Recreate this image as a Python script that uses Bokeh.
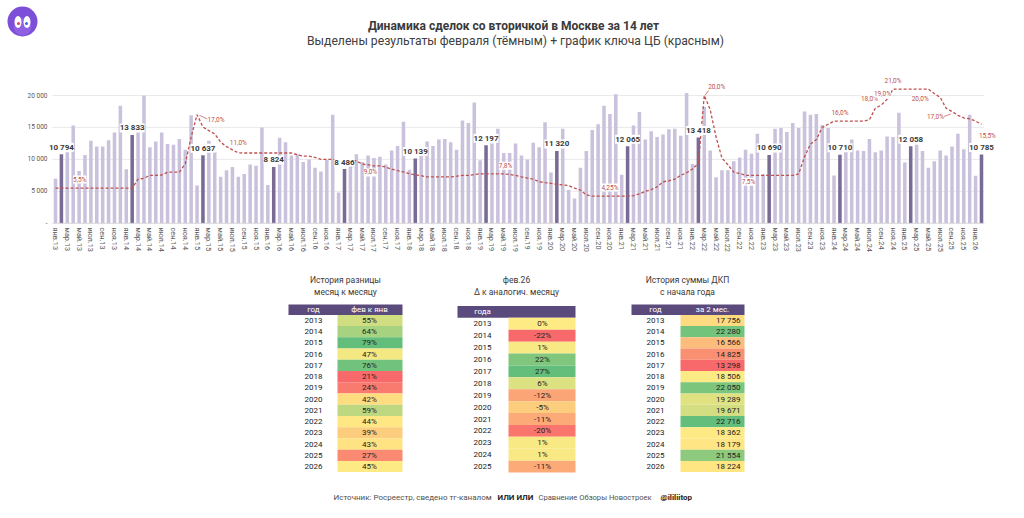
import numpy as np
from bokeh.plotting import figure
from bokeh.models import ColumnDataSource, LabelSet, Range1d, FixedTicker
from bokeh.layouts import column
from bokeh.embed import file_html
from bokeh.resources import INLINE
from bokeh.core.properties import value

FONT = "Roboto"

# ---------------- data ----------------
years = list(range(2013, 2027))
month_abbr = ["янв", "фев", "мар", "апр", "май", "июн", "июл", "авг", "сен", "окт", "ноя", "дек"]

deals_2013 = [6962, 10794, 11100, 15300, 8200, 10700, 12900, 12000, 12000, 13000, 14200, 18400]
deals_2014 = [8447, 13833, 15500, 20000, 11900, 12800, 14200, 12400, 12300, 13200, 11500, 16900]
deals_2015 = [5929, 10637, 12900, 11200, 7300, 8300, 8800, 7300, 7700, 9200, 9000, 15000]
deals_2016 = [6001, 8824, 13400, 12700, 10600, 10800, 9600, 10000, 8700, 8100, 9900, 17000]
deals_2017 = [4812, 8486, 9000, 10800, 9600, 10600, 10200, 10400, 9200, 11400, 12100, 15900]
deals_2018 = [8367, 10139, 10600, 12800, 12100, 13100, 13200, 12700, 11500, 16100, 15700, 18900]
deals_2019 = [9853, 12197, 12500, 14800, 11000, 11000, 12500, 10600, 10000, 12600, 11900, 15800]
deals_2020 = [7969, 11320, 14800, 5200, 3900, 8700, 11300, 14600, 15500, 18400, 17100, 20200]
deals_2021 = [7606, 12065, 15300, 17400, 13100, 14400, 13500, 13900, 14700, 14800, 13700, 20400]
deals_2022 = [9298, 13418, 18200, 11400, 7200, 8300, 8300, 9700, 10300, 11500, 10900, 14000]
deals_2023 = [7672, 10690, 14800, 14900, 14300, 15700, 14900, 17500, 17000, 17100, 15400, 14900]
deals_2024 = [7469, 10710, 11200, 13100, 11400, 11300, 13200, 11100, 11400, 13600, 13500, 17300]
deals_2025 = [9496, 12058, 12300, 11300, 8700, 9700, 11400, 10600, 12000, 14000, 11600, 17000]
deals_2026 = [7439, 10785]

rate_2013 = [5.5] * 12
rate_2014 = [5.5, 5.5, 6.9, 7.05, 7.5, 7.5, 7.56, 8.0, 8.0, 8.0, 9.3, 13.5]
rate_2015 = [17.0, 15.07, 14.5, 14.0, 12.7, 12.0, 11.5, 11.03, 11.0, 11.0, 11.0, 11.0]
rate_2016 = [11.0, 11.0, 11.0, 11.0, 11.0, 10.75, 10.5, 10.5, 10.3, 10.0, 10.0, 10.0]
rate_2017 = [10.0, 10.0, 9.97, 9.75, 9.27, 9.15, 9.0, 9.0, 8.8, 8.48, 8.25, 8.03]
rate_2018 = [7.75, 7.6, 7.45, 7.25, 7.25, 7.25, 7.25, 7.25, 7.37, 7.5, 7.5, 7.62]
rate_2019 = [7.75, 7.75, 7.75, 7.75, 7.75, 7.63, 7.49, 7.25, 7.07, 6.9, 6.5, 6.37]
rate_2020 = [6.25, 6.09, 6.0, 5.92, 5.5, 5.2, 4.45, 4.25, 4.25, 4.25, 4.25, 4.25]
rate_2021 = [4.25, 4.25, 4.33, 4.6, 5.0, 5.27, 5.7, 6.5, 6.65, 6.9, 7.5, 7.9]
rate_2022 = [8.5, 9.4, 20.0, 17.8, 13.5, 10.2, 9.16, 8.0, 7.8, 7.5, 7.5, 7.5]
rate_2023 = [7.5, 7.5, 7.5, 7.5, 7.5, 7.5, 7.73, 10.4, 12.4, 13.1, 15.0, 15.5]
rate_2024 = [16.0, 16.0, 16.0, 16.0, 16.0, 16.0, 16.2, 18.0, 18.5, 19.4, 21.0, 21.0]
rate_2025 = [21.0, 21.0, 21.0, 21.0, 21.0, 20.3, 19.7, 18.0, 17.5, 16.9, 16.5, 16.35]
rate_2026 = [16.0, 15.5]

rate_lbl_idx = [4, 24, 31, 53, 76, 94, 110, 117, 133, 139, 140, 142, 149, 152, 157]
rate_lbl_txt = ["5,5%", "17,0%", "11,0%", "9,0%", "7,8%", "4,25%", "20,0%", "7,5%",
                "16,0%", "18,0%", "19,0%", "21,0%", "20,0%", "17,0%", "15,5%"]

y_ticks = [0, 5000, 10000, 15000, 20000]
y_tick_labels = ["-", "5 000", "10 000", "15 000", "20 000"]

t1_years = list(range(2013, 2027))
t1_vals = [55, 64, 79, 47, 76, 21, 24, 42, 59, 44, 39, 43, 27, 45]
t2_years = list(range(2013, 2026))
t2_vals = [0, -22, 1, 22, 27, 6, -12, -5, -11, -20, 1, 1, -11]
t3_years = list(range(2013, 2027))
t3_vals = [17756, 22280, 16566, 14825, 13298, 18506, 22050, 19289, 19671, 22716, 18362, 18179, 21554, 18224]

TITLE = "Динамика сделок со вторичкой в Москве за 14 лет"
SUBTITLE = "Выделены результаты февраля (тёмным) + график ключа ЦБ (красным)"

# ---------------- styles / layout ----------------
LIGHT = "#cac2dc"
DARK = "#7a6b96"
RED = "#c0504d"
HEAD = "#5b4b7d"
GRAY_T = "#595959"

W = 1024
BAR0_PX = 55.0      # page x of first bar
STEP_PX = 5.898     # page px per month
PX_PER_UNIT = 6.39 / 1000.0
BASE_PX = 222.8     # page y of the zero line
CH_TOP, CH_H = 60, 206
MB_TOP, MB_BOT = 14, 39

# label placement offsets (months, units) for the rate labels
rate_lbl_dx = [0.1, 3.2, 0, 0.4, 0.3, 0, 2.1, 0.5, 0, -1, 0.2, 0, -2.4, -2.8, 1.0]
rate_lbl_dy = [1350, -800, 1500, -1200, 1250, 1350, 1400, -1000, 1300, 1400, 1800, 1300, -900, -800, -1900]

deals = (deals_2013 + deals_2014 + deals_2015 + deals_2016 + deals_2017 + deals_2018 + deals_2019 +
         deals_2020 + deals_2021 + deals_2022 + deals_2023 + deals_2024 + deals_2025 + deals_2026)
rates = (rate_2013 + rate_2014 + rate_2015 + rate_2016 + rate_2017 + rate_2018 + rate_2019 +
         rate_2020 + rate_2021 + rate_2022 + rate_2023 + rate_2024 + rate_2025 + rate_2026)
n = len(deals)
months = [f"{month_abbr[m]}.{str(y)[2:]}" for y in years for m in range(12)][:n]
idx = list(range(n))
is_feb = [i % 12 == 1 for i in idx]


def fmt_num(v):
    return f"{v:,}".replace(",", " ")


# ---------------- header ----------------
hdr = figure(width=W, height=CH_TOP, x_range=Range1d(0, W), y_range=Range1d(CH_TOP, 0),
             output_backend="svg", toolbar_location=None, title=None, min_border=0,
             x_axis_location=None, y_axis_location=None)
hdr.grid.visible = False
hdr.outline_line_color = None
hdr.scatter([22], [21], size=30, marker="circle", fill_color="#7d4fd8", line_color=None)
hdr.scatter([22], [26], size=18, marker="circle", fill_color="#a070ee", line_color=None, fill_alpha=0.55)
hdr.ellipse(x=[17.5, 26.5], y=[21.5, 21.5], width=7, height=12, fill_color="white", line_color=None)
hdr.scatter([18, 26], [23, 23], size=3, marker="circle", fill_color=["#e04060", "#4060e0"], line_color=None)
hdr.text(x=[513], y=[25], text=[TITLE], text_font=value(FONT), text_font_size="12px",
         text_font_style="bold", text_align="center", text_baseline="middle", text_color="#3a3a3a")
hdr.text(x=[515], y=[40], text=[SUBTITLE], text_font=value(FONT), text_font_size="12.2px",
         text_align="center", text_baseline="middle", text_color="#404040")

# ---------------- chart ----------------
frame_top = CH_TOP + MB_TOP
frame_bot = CH_TOP + CH_H - MB_BOT
y0 = -(frame_bot - BASE_PX) / PX_PER_UNIT
y1 = (BASE_PX - frame_top) / PX_PER_UNIT
x0 = -BAR0_PX / STEP_PX
x1 = (W - BAR0_PX) / STEP_PX

p = figure(width=W, height=CH_H, x_range=Range1d(x0, x1), y_range=Range1d(y0, y1),
           output_backend="svg", toolbar_location=None, title=None, y_axis_location=None,
           min_border_left=0, min_border_right=0, min_border_top=MB_TOP, min_border_bottom=MB_BOT)
p.outline_line_color = None
p.xgrid.visible = False
p.ygrid.visible = False
p.background_fill_color = "white"

p.segment(x0=[-0.5] * 4, x1=[n - 0.5] * 4, y0=y_ticks[1:], y1=y_ticks[1:], line_color="#e4e4e4",
          line_width=0.8, level="underlay")

bar_src = ColumnDataSource(dict(x=idx, top=deals, c=[DARK if f else LIGHT for f in is_feb]))
p.vbar(x="x", top="top", bottom=0, width=0.6, fill_color="c", line_color=None, source=bar_src)
p.segment(x0=[-0.5], x1=[n - 0.5], y0=[0], y1=[0], line_color="#d0d0d0", line_width=0.8)

# y tick labels
p.text(x=[(47 - BAR0_PX) / STEP_PX] * len(y_ticks), y=y_ticks, text=y_tick_labels,
       text_font=value(FONT), text_font_size="6.5px", text_color=GRAY_T,
       text_align="right", text_baseline="middle")

p.line(idx, [r * 1000 for r in rates], line_color=RED, line_dash="3 2", line_width=1.3)

# leader lines for some rate labels
p.segment(x0=[24.4, 110.1, 150.6], y0=[16900, 20000, 16700], x1=[25.8, 110.9, 151.8],
          y1=[16300, 21000, 17100], line_color=RED, line_width=0.7)

feb_x = [i for i in idx if is_feb[i]]
feb_src = ColumnDataSource(dict(x=feb_x, y=[deals[i] for i in feb_x], t=[fmt_num(deals[i]) for i in feb_x]))
p.add_layout(LabelSet(x="x", y="y", text="t", source=feb_src, y_offset=7, text_align="center",
                      text_baseline="middle", text_font=value(FONT), text_font_size="8px",
                      text_font_style="bold", text_color="#3a3a3a", background_fill_color="white"))

rl_src = ColumnDataSource(dict(
    x=[rate_lbl_idx[k] + rate_lbl_dx[k] for k in range(len(rate_lbl_idx))],
    y=[rates[rate_lbl_idx[k]] * 1000 + rate_lbl_dy[k] for k in range(len(rate_lbl_idx))],
    t=rate_lbl_txt))
p.add_layout(LabelSet(x="x", y="y", text="t", source=rl_src, text_align="center",
                      text_baseline="middle", text_font=value(FONT), text_font_size="6.5px",
                      text_color=RED, background_fill_color="white"))

p.xaxis.ticker = FixedTicker(ticks=list(range(0, n, 2)))
p.xaxis.major_label_overrides = {i: months[i] for i in range(0, n, 2)}
p.xaxis.major_label_orientation = "vertical"
p.xaxis.axis_line_color = None
p.xaxis.major_tick_line_color = None
p.xaxis.minor_tick_line_color = None
p.xaxis.major_label_text_font = FONT
p.xaxis.major_label_text_font_size = "7.3px"
p.xaxis.major_label_text_color = GRAY_T
p.xaxis.major_label_standoff = 0
p.xaxis.major_tick_out = 0
p.xaxis.major_tick_in = 0


# ---------------- tables ----------------
def scale_colors(vals):
    lo, hi = min(vals), max(vals)
    mid = float(np.percentile(vals, 50))
    red, yel, grn = (248, 105, 107), (255, 235, 132), (99, 190, 123)
    out = []
    for v in vals:
        if v <= mid:
            t = (v - lo) / (mid - lo) if mid > lo else 1.0
            a, b = red, yel
        else:
            t = (v - mid) / (hi - mid)
            a, b = yel, grn
        c = tuple(int(round(a[k] + (b[k] - a[k]) * t)) for k in range(3))
        out.append("#%02x%02x%02x" % c)
    return out


TB_TOP = CH_TOP + CH_H
TB_H = 518 - TB_TOP
tb = figure(width=W, height=TB_H, x_range=Range1d(0, W), y_range=Range1d(TB_H, 0),
            output_backend="svg", toolbar_location=None, title=None, min_border=0,
            x_axis_location=None, y_axis_location=None)
tb.grid.visible = False
tb.outline_line_color = None


def txt(x, y, s, size="8px", color="#333333", align="center", style="normal"):
    tb.text(x=x, y=y, text=s, text_font=value(FONT), text_font_size=size, text_color=color,
            text_align=align, text_baseline="middle", text_font_style=style)


def table(cx_title, titles, hx0, hx1, hy0, hy1, head_txt, head_x, row_y0, pitch,
          yrs, vals, labels, year_x, cell_x0, cell_x1, val_x, val_align):
    txt([cx_title] * 2, [13, 25], titles, size="8.5px", color="#3a3a3a")
    tb.quad(left=[hx0], right=[hx1], top=[hy0], bottom=[hy1], fill_color=HEAD, line_color=None)
    txt(head_x, [(hy0 + hy1) / 2] * len(head_x), head_txt, size="8px", color="white")
    ys = [row_y0 + i * pitch for i in range(len(yrs))]
    tb.quad(left=[cell_x0] * len(ys), right=[cell_x1] * len(ys), top=[y - pitch / 2 for y in ys],
            bottom=[y + pitch / 2 for y in ys], fill_color=scale_colors(vals), line_color=None)
    txt([year_x] * len(ys), ys, [str(y) for y in yrs], size="8px", color="#222222")
    txt([val_x] * len(ys), ys, labels, size="8px", color="#222222", align=val_align)


table(345, ["История разницы", "месяц к месяцу"], 288, 402, 38, 48.4, ["год", "фев к янв"], [313, 369],
      54, 11.23, t1_years, t1_vals, [f"{v}%" for v in t1_vals], 313, 337, 402, 369, "center")
table(516, ["фев.26", "Δ к аналогич. месяцу"], 457, 575, 39.5, 51.3, ["года"], [482],
      57.3, 11.9, t2_years, t2_vals, [f"{v}%" for v in t2_vals], 482, 508, 575, 542, "center")
table(687, ["История суммы ДКП", "с начала года"], 631, 744, 38, 48.4, ["год", "за 2 мес."], [655, 712],
      54, 11.23, t3_years, t3_vals, [fmt_num(v) for v in t3_vals], 655, 680, 744, 740, "right")

foot_parts = ["Источник: Росреестр, сведено тг-каналом", "ИЛИ ИЛИ", "Сравнение Обзоры Новостроек", "@ililiitop"]
foot_x = [333, 497, 538, 660]
foot_size = ["8px", "8px", "7.6px", "8px"]
foot_bold = ["normal", "bold", "normal", "bold"]
for s, x, sz, b in zip(foot_parts, foot_x, foot_size, foot_bold):
    txt([x], [231], [s], size=sz, color="#505050" if b == "normal" else "#222222", align="left", style=b)

layout = column(hdr, p, tb)
open("out.html", "w").write(file_html(layout, INLINE))
